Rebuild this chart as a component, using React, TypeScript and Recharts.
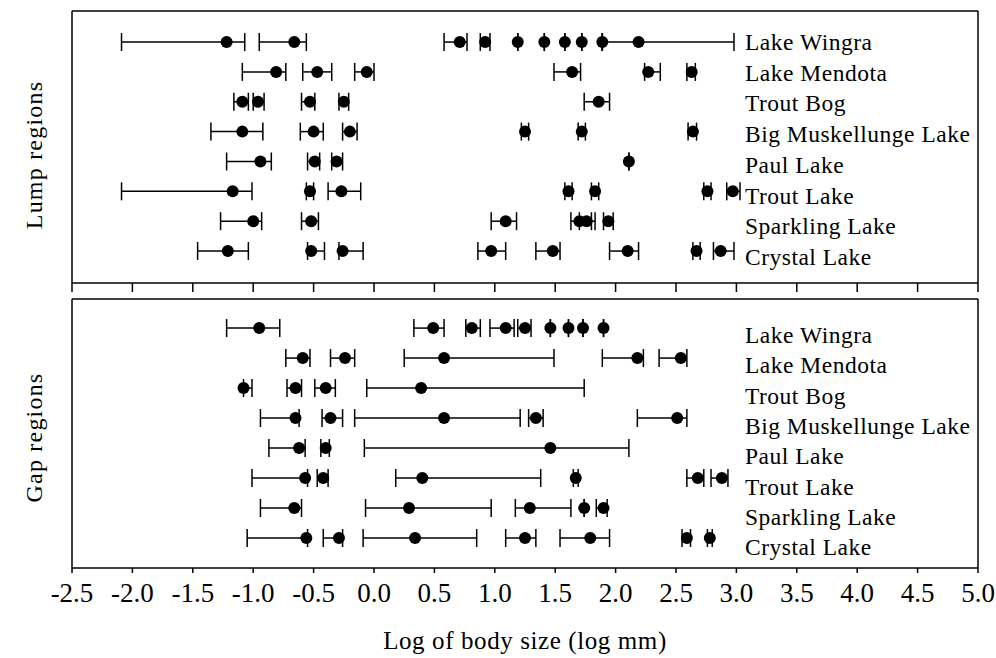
import React from 'react';
import { ScatterChart, Scatter, XAxis, YAxis, ErrorBar } from 'recharts';

type Triple = [number, number, number]; // [mean, lower, upper]

const lakes = [
  'Lake Wingra',
  'Lake Mendota',
  'Trout Bog',
  'Big Muskellunge Lake',
  'Paul Lake',
  'Trout Lake',
  'Sparkling Lake',
  'Crystal Lake',
];

const xTicks = [-2.5, -2.0, -1.5, -1.0, -0.5, 0.0, 0.5, 1.0, 1.5, 2.0, 2.5, 3.0, 3.5, 4.0, 4.5, 5.0];
const rowTicks = [1, 2, 3, 4, 5, 6, 7, 8];

// ---- Lump regions ----
const lumpWingra: Triple[] = [[-1.22, -2.09, -1.07], [-0.66, -0.95, -0.56], [0.71, 0.58, 0.77], [0.92, 0.88, 0.96], [1.19, 1.19, 1.19], [1.41, 1.41, 1.41], [1.58, 1.58, 1.58], [1.72, 1.72, 1.72], [1.89, 1.89, 1.89], [2.19, 1.89, 2.98]];
const lumpMendota: Triple[] = [[-0.81, -1.09, -0.73], [-0.47, -0.59, -0.35], [-0.06, -0.16, 0.0], [1.64, 1.49, 1.71], [2.27, 2.24, 2.37], [2.63, 2.59, 2.66]];
const lumpTroutBog: Triple[] = [[-1.09, -1.16, -1.04], [-0.96, -1.0, -0.91], [-0.53, -0.6, -0.49], [-0.25, -0.29, -0.21], [1.86, 1.74, 1.95]];
const lumpBigMusk: Triple[] = [[-1.09, -1.35, -0.92], [-0.5, -0.61, -0.42], [-0.2, -0.26, -0.14], [1.25, 1.22, 1.28], [1.72, 1.69, 1.75], [2.64, 2.6, 2.67]];
const lumpPaul: Triple[] = [[-0.94, -1.22, -0.85], [-0.49, -0.55, -0.45], [-0.31, -0.35, -0.26], [2.11, 2.11, 2.11]];
const lumpTroutLake: Triple[] = [[-1.17, -2.09, -1.01], [-0.53, -0.56, -0.5], [-0.27, -0.38, -0.11], [1.61, 1.58, 1.64], [1.83, 1.8, 1.86], [2.76, 2.73, 2.79], [2.97, 2.92, 3.03]];
const lumpSparkling: Triple[] = [[-1.0, -1.27, -0.93], [-0.52, -0.6, -0.46], [1.09, 0.97, 1.18], [1.7, 1.63, 1.83], [1.76, 1.7, 1.8], [1.94, 1.9, 1.98]];
const lumpCrystal: Triple[] = [[-1.21, -1.46, -1.04], [-0.52, -0.55, -0.41], [-0.26, -0.29, -0.09], [0.97, 0.86, 1.09], [1.48, 1.34, 1.54], [2.1, 1.95, 2.19], [2.67, 2.64, 2.7], [2.87, 2.81, 2.98]];

// ---- Gap regions ----
const gapWingra: Triple[] = [[-0.95, -1.22, -0.78], [0.49, 0.33, 0.58], [0.81, 0.76, 0.88], [1.09, 0.96, 1.16], [1.25, 1.19, 1.3], [1.46, 1.46, 1.46], [1.61, 1.61, 1.61], [1.73, 1.73, 1.73], [1.9, 1.9, 1.9]];
const gapMendota: Triple[] = [[-0.59, -0.73, -0.53], [-0.24, -0.36, -0.16], [0.58, 0.25, 1.49], [2.18, 1.89, 2.23], [2.54, 2.36, 2.59]];
const gapTroutBog: Triple[] = [[-1.08, -1.08, -1.01], [-0.65, -0.72, -0.6], [-0.4, -0.49, -0.32], [0.39, -0.06, 1.74]];
const gapBigMusk: Triple[] = [[-0.65, -0.94, -0.62], [-0.36, -0.43, -0.26], [0.58, -0.16, 1.21], [1.34, 1.28, 1.4], [2.51, 2.18, 2.59]];
const gapPaul: Triple[] = [[-0.62, -0.87, -0.57], [-0.4, -0.44, -0.37], [1.46, -0.08, 2.11]];
const gapTroutLake: Triple[] = [[-0.57, -1.01, -0.55], [-0.42, -0.47, -0.38], [0.4, 0.18, 1.38], [1.67, 1.65, 1.69], [2.68, 2.59, 2.73], [2.88, 2.79, 2.93]];
const gapSparkling: Triple[] = [[-0.66, -0.94, -0.6], [0.29, -0.07, 0.97], [1.29, 1.17, 1.63], [1.74, 1.74, 1.74], [1.9, 1.84, 1.93]];
const gapCrystal: Triple[] = [[-0.56, -1.05, -0.55], [-0.29, -0.42, -0.26], [0.34, -0.09, 0.85], [1.25, 1.09, 1.34], [1.79, 1.54, 1.95], [2.59, 2.55, 2.62], [2.78, 2.76, 2.8]];

const lumpRows = [lumpWingra, lumpMendota, lumpTroutBog, lumpBigMusk, lumpPaul, lumpTroutLake, lumpSparkling, lumpCrystal];
const gapRows = [gapWingra, gapMendota, gapTroutBog, gapBigMusk, gapPaul, gapTroutLake, gapSparkling, gapCrystal];

const build = (rows: Triple[][]) =>
  rows.flatMap((row, i) =>
    row.map(([m, lo, hi]) => ({ x: m, y: lakes.length - i, err: [m - lo, hi - m] }))
  );

const lumpData = build(lumpRows);
const gapData = build(gapRows);

const FONT = '"Liberation Serif", "Times New Roman", serif';
const LABEL_X = 745;
const TITLE_X = 42;

const Dot = (p: any) => <circle cx={p.cx} cy={p.cy} r={6} fill="#000" />;

const makeLakeTick = (dy0: number, step: number) => (p: any) => {
  const idx = lakes.length - p.payload.value;
  return (
    <text x={LABEL_X} y={p.y + dy0 + idx * step} fontFamily={FONT} fontSize={23.5} letterSpacing={0.5} fill="#000" dominantBaseline="central">
      {lakes[idx]}
    </text>
  );
};

const sideTitle = (text: string, shift: number) => (p: any) => {
  const vb = p.viewBox || {};
  const cy = vb.y + vb.height / 2 + shift;
  return (
    <text transform={`translate(${TITLE_X}, ${cy}) rotate(-90)`} textAnchor="middle" fontFamily={FONT} fontSize={24} letterSpacing={1.2} fill="#000">
      {text}
    </text>
  );
};

const axisStroke = { stroke: '#000', strokeWidth: 1.5 };

function Panel(props: {
  data: any[];
  top: number;
  height: number;
  marginBottom: number;
  xHeight: number;
  yDomain: [number, number];
  title: string;
  titleShift: number;
  labelDy: number;
  labelStep: number;
  showLabels: boolean;
}) {
  const { data, top, height, marginBottom, xHeight, yDomain, title, titleShift, labelDy, labelStep, showLabels } = props;
  return (
    <div style={{ position: 'absolute', left: 0, top: 0 }}>
      <ScatterChart width={996} height={height} margin={{ top: top - 1, right: 17, bottom: marginBottom, left: 71 }}>
        <XAxis
          type="number"
          dataKey="x"
          domain={[-2.5, 5]}
          allowDataOverflow
          ticks={xTicks}
          interval={0}
          height={xHeight}
          tickSize={showLabels ? 5 : 9}
          tickMargin={showLabels ? 10 : 0}
          axisLine={axisStroke}
          tickLine={axisStroke}
          tickFormatter={(v: number) => (showLabels ? v.toFixed(1) : '')}
          tick={{ fill: '#000', fontFamily: FONT, fontSize: 27 }}
          label={
            showLabels
              ? {
                  content: (p: any) => {
                    const vb = p.viewBox || {};
                    return (
                      <text x={vb.x + vb.width / 2} y={vb.y + vb.height - 9} textAnchor="middle" fontFamily={FONT} fontSize={25} letterSpacing={0.6} fill="#000">
                        Log of body size (log mm)
                      </text>
                    );
                  },
                }
              : undefined
          }
        />
        <XAxis xAxisId="top" orientation="top" type="number" domain={[-2.5, 5]} height={1} tick={false} tickLine={false} axisLine={axisStroke} />
        <YAxis
          type="number"
          dataKey="y"
          domain={yDomain}
          allowDataOverflow
          ticks={rowTicks}
          interval={0}
          width={1}
          tickLine={false}
          axisLine={axisStroke}
          tick={makeLakeTick(labelDy, labelStep)}
          label={{ content: sideTitle(title, titleShift) }}
        />
        <YAxis yAxisId="right" orientation="right" type="number" domain={yDomain} width={1} tick={false} tickLine={false} axisLine={axisStroke} />
        <Scatter data={data} shape={Dot} isAnimationActive={false}>
          <ErrorBar dataKey="err" direction="x" width={9} stroke="#000" strokeWidth={1.5} isAnimationActive={false} />
        </Scatter>
      </ScatterChart>
    </div>
  );
}

export default function App() {
  return (
    <div style={{ position: 'absolute', left: 0, top: 0, width: 996, height: 658, background: '#fff' }}>
      <Panel data={lumpData} top={11} height={300} marginBottom={8} xHeight={9} yDomain={[-0.07, 9.04]} title="Lump regions" titleShift={8} labelDy={0} labelStep={0.86} showLabels={false} />
      <Panel data={gapData} top={299} height={658} marginBottom={0} xHeight={90} yDomain={[0, 8.97]} title="Gap regions" titleShift={4} labelDy={7} labelStep={0.3} showLabels={true} />
    </div>
  );
}
